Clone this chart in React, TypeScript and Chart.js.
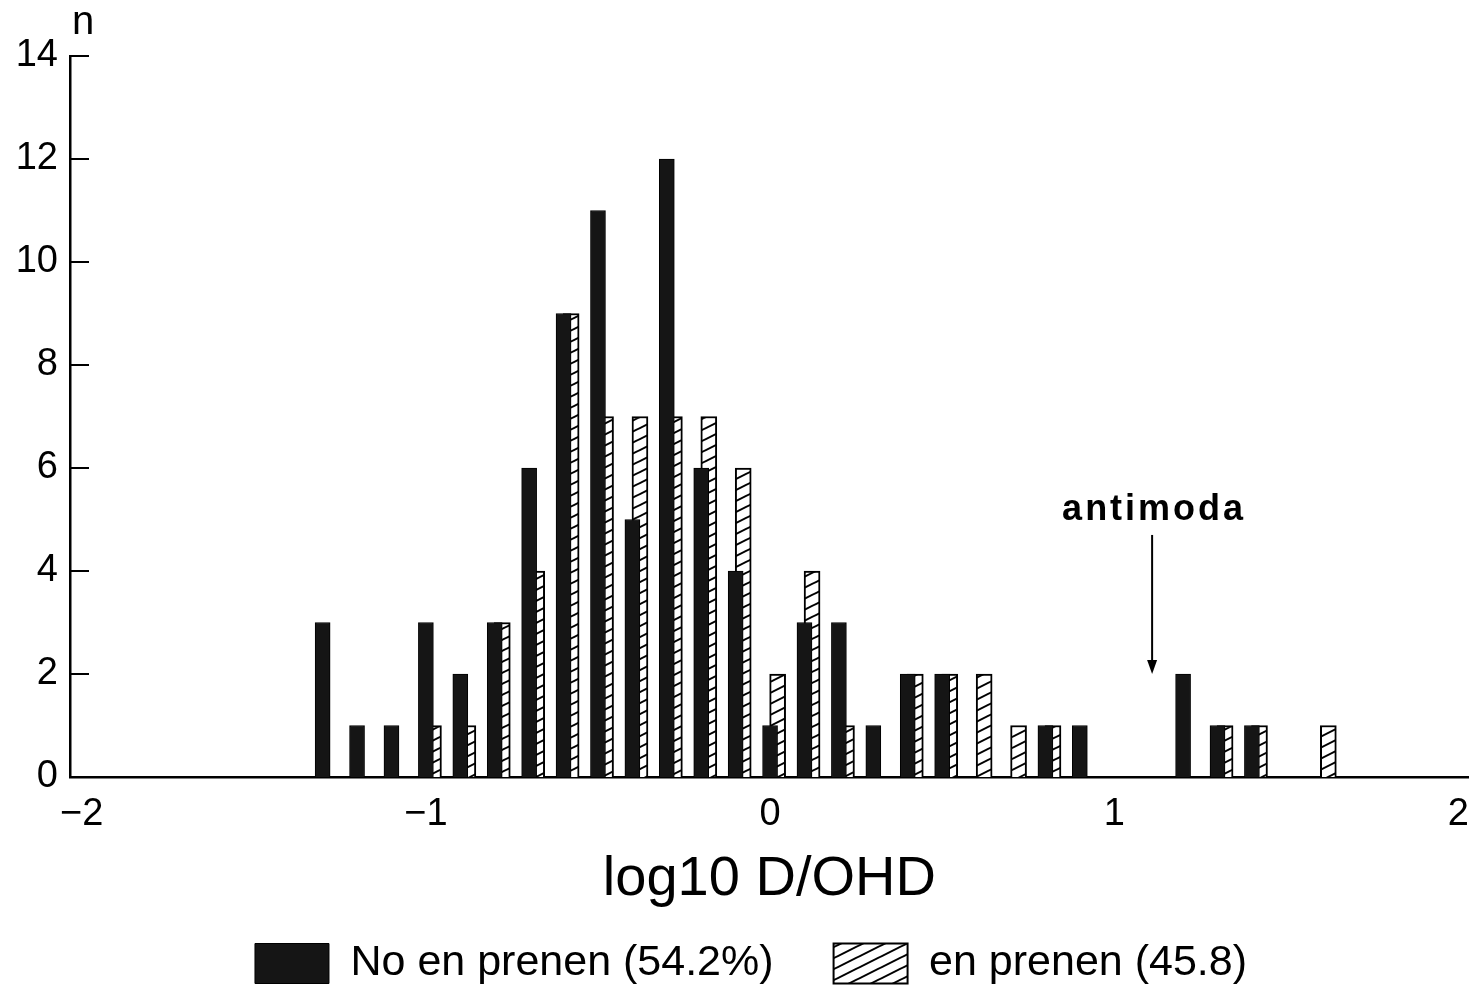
import React, { useEffect, useRef } from 'react';
import { Chart, registerables } from 'chart.js';

Chart.register(...registerables);

// Histogram bins of log10 D/OHD (bin centres, width 0.1)
const BIN_CENTERS = [
  -1.3, -1.2, -1.1, -1.0, -0.9, -0.8, -0.7, -0.6, -0.5, -0.4,
  -0.3, -0.2, -0.1, 0.0, 0.1, 0.2, 0.3, 0.4, 0.5, 0.6,
  0.7, 0.8, 0.9, 1.0, 1.1, 1.2, 1.3, 1.4, 1.5, 1.6,
];

// Counts per bin
const NO_EN_PRENEN = [
  3, 1, 1, 3, 2, 3, 6, 9, 11, 5,
  12, 6, 4, 1, 3, 3, 1, 2, 2, 0,
  0, 1, 1, 0, 0, 2, 1, 1, 0, 0,
];
const EN_PRENEN = [
  0, 0, 0, 1, 1, 3, 4, 9, 7, 7,
  7, 7, 6, 2, 4, 1, 0, 2, 2, 2,
  1, 1, 0, 0, 0, 0, 1, 1, 0, 1,
];

const SERIES_LABELS = ['No en prenen (54.2%)', 'en prenen (45.8)'];
const X_TICKS = [-2, -1, 0, 1, 2];
const Y_TICKS = [0, 2, 4, 6, 8, 10, 12, 14];
const X_TITLE = 'log10 D/OHD';
const Y_TITLE = 'n';

// Antimode marker: label and arrow pointing down onto the axis
const ANTIMODA_LABEL = 'antimoda';
const ANTIMODA_X = 1.11;
const ANTIMODA_TEXT_Y = 5.0;
const ANTIMODA_ARROW_FROM = 4.7;
const ANTIMODA_ARROW_TO = 2.0;

const FONT = '"Liberation Sans", Arial, sans-serif';
const X_MIN = -2.034;
const X_MAX = 2.03;
// the hatched series is drawn slightly to the right, partly behind the solid one
const HATCH_SHIFT = 0.022;

function makeHatch(): CanvasPattern | string {
  const c = document.createElement('canvas');
  c.width = 22;
  c.height = 11;
  const g = c.getContext('2d');
  if (!g) return '#fff';
  g.fillStyle = '#fff';
  g.fillRect(0, 0, 22, 11);
  g.strokeStyle = '#000';
  g.lineWidth = 2;
  for (const n of [-1, 0, 1]) {
    g.beginPath();
    g.moveTo(-2, 12 + 11 * n);
    g.lineTo(24, -1 + 11 * n);
    g.stroke();
  }
  return g.createPattern(c, 'repeat') || '#fff';
}

const fmtTick = (v: number) => (v < 0 ? '\u2212' + Math.abs(v) : String(v));

const decorations = {
  id: 'decorations',
  afterDatasetsDraw(chart: any) {
    const { ctx, chartArea, scales } = chart;
    const x = scales.x;
    const y = scales.y;
    ctx.save();
    // inward tick marks on the count axis
    ctx.strokeStyle = '#000';
    ctx.lineWidth = 2;
    for (const v of Y_TICKS) {
      if (v === 0) continue;
      const py = y.getPixelForValue(v);
      ctx.beginPath();
      ctx.moveTo(chartArea.left, py);
      ctx.lineTo(chartArea.left + 19, py);
      ctx.stroke();
    }
    // axis name above the count axis
    ctx.fillStyle = '#000';
    ctx.font = `40px ${FONT}`;
    ctx.textAlign = 'center';
    ctx.textBaseline = 'alphabetic';
    ctx.fillText(Y_TITLE, chartArea.left + 13, chartArea.top - 22);

    // antimoda label and arrow
    const ax = x.getPixelForValue(ANTIMODA_X);
    ctx.font = `bold 36px ${FONT}`;
    try { (ctx as any).letterSpacing = '3px'; } catch (e) { /* ignore */ }
    ctx.fillText(ANTIMODA_LABEL, ax + 2, y.getPixelForValue(ANTIMODA_TEXT_Y));
    try { (ctx as any).letterSpacing = '0px'; } catch (e) { /* ignore */ }
    const yFrom = y.getPixelForValue(ANTIMODA_ARROW_FROM);
    const yTo = y.getPixelForValue(ANTIMODA_ARROW_TO);
    ctx.lineWidth = 2;
    ctx.beginPath();
    ctx.moveTo(ax, yFrom);
    ctx.lineTo(ax, yTo - 12);
    ctx.stroke();
    ctx.beginPath();
    ctx.moveTo(ax - 5, yTo - 14);
    ctx.lineTo(ax + 5, yTo - 14);
    ctx.lineTo(ax, yTo);
    ctx.closePath();
    ctx.fill();
    ctx.restore();
  },
};

export default function App() {
  const canvasRef = useRef<HTMLCanvasElement | null>(null);

  useEffect(() => {
    const canvas = canvasRef.current;
    if (!canvas) return;
    const hatch = makeHatch();

    const solidData = BIN_CENTERS.map((b, i) => ({ x: b, y: NO_EN_PRENEN[i] === 0 ? null : NO_EN_PRENEN[i] }));
    const hatchData = BIN_CENTERS.map((b, i) => ({ x: b, y: EN_PRENEN[i] === 0 ? null : EN_PRENEN[i] }));

    const tickFont = { family: FONT, size: 38 };

    const chart = new Chart(canvas, {
      type: 'bar',
      data: {
        datasets: [
          {
            label: SERIES_LABELS[0],
            data: solidData as any,
            backgroundColor: '#151515',
            borderColor: '#000',
            borderWidth: 1,
            barThickness: 15,
            grouped: false,
            xAxisID: 'x',
            yAxisID: 'y',
          },
          {
            label: SERIES_LABELS[1],
            data: hatchData as any,
            backgroundColor: hatch as any,
            borderColor: '#000',
            borderWidth: 2,
            barThickness: 16,
            grouped: false,
            xAxisID: 'xh',
            yAxisID: 'y',
          },
        ],
      },
      options: {
        responsive: false,
        animation: false,
        layout: { padding: { top: 56, left: 0, right: -33, bottom: 4 } },
        plugins: {
          tooltip: { enabled: false },
          legend: {
            position: 'bottom',
            labels: {
              boxWidth: 74,
              boxHeight: 40,
              padding: 60,
              color: '#000',
              font: { family: FONT, size: 43 },
            },
          },
        },
        scales: {
          x: {
            type: 'linear',
            position: 'bottom',
            min: X_MIN,
            max: X_MAX,
            offset: false,
            afterBuildTicks: (s: any) => {
              s.ticks = X_TICKS.map((v) => ({ value: v }));
            },
            ticks: {
              color: '#000',
              font: tickFont,
              padding: 0,
              callback: (v: any) => fmtTick(Number(v)),
            },
            // tick marks are not drawn; the tick length only spaces the labels from the axis
            grid: { display: false, drawTicks: true, tickLength: 15 },
            border: { display: true, color: '#000', width: 2.5 },
            title: {
              display: true,
              text: X_TITLE,
              color: '#000',
              font: { family: FONT, size: 56 },
              padding: { top: 0, bottom: -31 },
            },
            afterFit: (s: any) => {
              s.height = 105;
            },
          },
          xh: {
            type: 'linear',
            display: false,
            min: X_MIN - HATCH_SHIFT,
            max: X_MAX - HATCH_SHIFT,
            offset: false,
          },
          y: {
            type: 'linear',
            min: 0,
            max: 14,
            afterBuildTicks: (s: any) => {
              s.ticks = Y_TICKS.map((v) => ({ value: v }));
            },
            ticks: { color: '#000', font: tickFont, padding: 12 },
            grid: { display: false, drawTicks: false },
            border: { display: true, color: '#000', width: 2.5 },
            afterFit: (s: any) => {
              s.width = 70;
            },
          },
        },
      } as any,
      plugins: [decorations],
    });

    return () => chart.destroy();
  }, []);

  return (
    <div style={{ position: 'fixed', left: 0, top: 0, width: 1469, height: 999, background: '#fff', overflow: 'hidden' }}>
      <canvas ref={canvasRef} width={1469} height={999} />
    </div>
  );
}
